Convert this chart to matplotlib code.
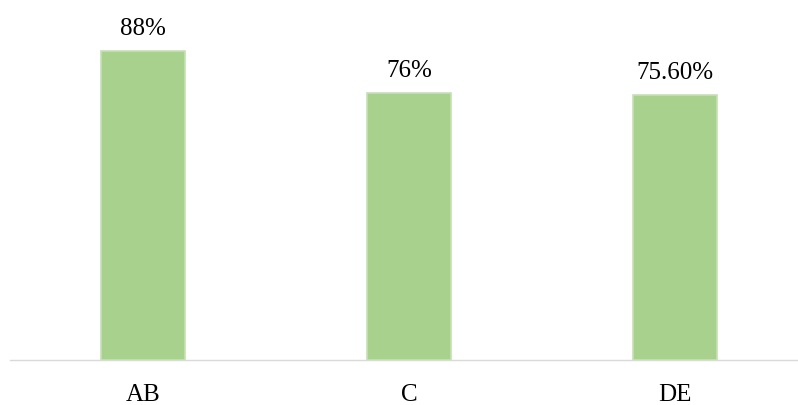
import matplotlib
matplotlib.use("Agg")
import matplotlib.pyplot as plt

categories = ["AB", "C", "DE"]
values = [88.0, 76.0, 75.6]
value_labels = ["88%", "76%", "75.60%"]

plt.rcParams["font.family"] = ["Liberation Serif", "DejaVu Serif"]

W, H, DPI = 798, 406, 100
fig = plt.figure(figsize=(W / DPI, H / DPI), dpi=DPI)

# axes: baseline 45 px above bottom, left edge at 10 px
ax = fig.add_axes([10 / W, 45 / H, (W - 10) / W, 361 / H])
x = list(range(len(categories)))
ax.bar(x, values, width=0.316, color="#A9D18E", edgecolor="#C5E0B4", linewidth=1.2, zorder=2)

ax.set_xlim(-0.5, 2.4624)
ax.set_ylim(0, 102.8)

for s in ["top", "right", "left"]:
    ax.spines[s].set_visible(False)
ax.spines["bottom"].set_color("#D9D9D9")
ax.spines["bottom"].set_linewidth(1.0)
ax.set_yticks([])
ax.set_xticks(x)
ax.set_xticklabels(categories, fontsize=18, color="black")
ax.tick_params(axis="x", length=0, pad=16.5)

for xi, v, lab in zip(x, values, value_labels):
    ax.annotate(lab, (xi, v), xytext=(0, 12.2), textcoords="offset points",
                ha="center", va="baseline", fontsize=18, color="black")

fig.savefig("out.png", dpi=DPI)
